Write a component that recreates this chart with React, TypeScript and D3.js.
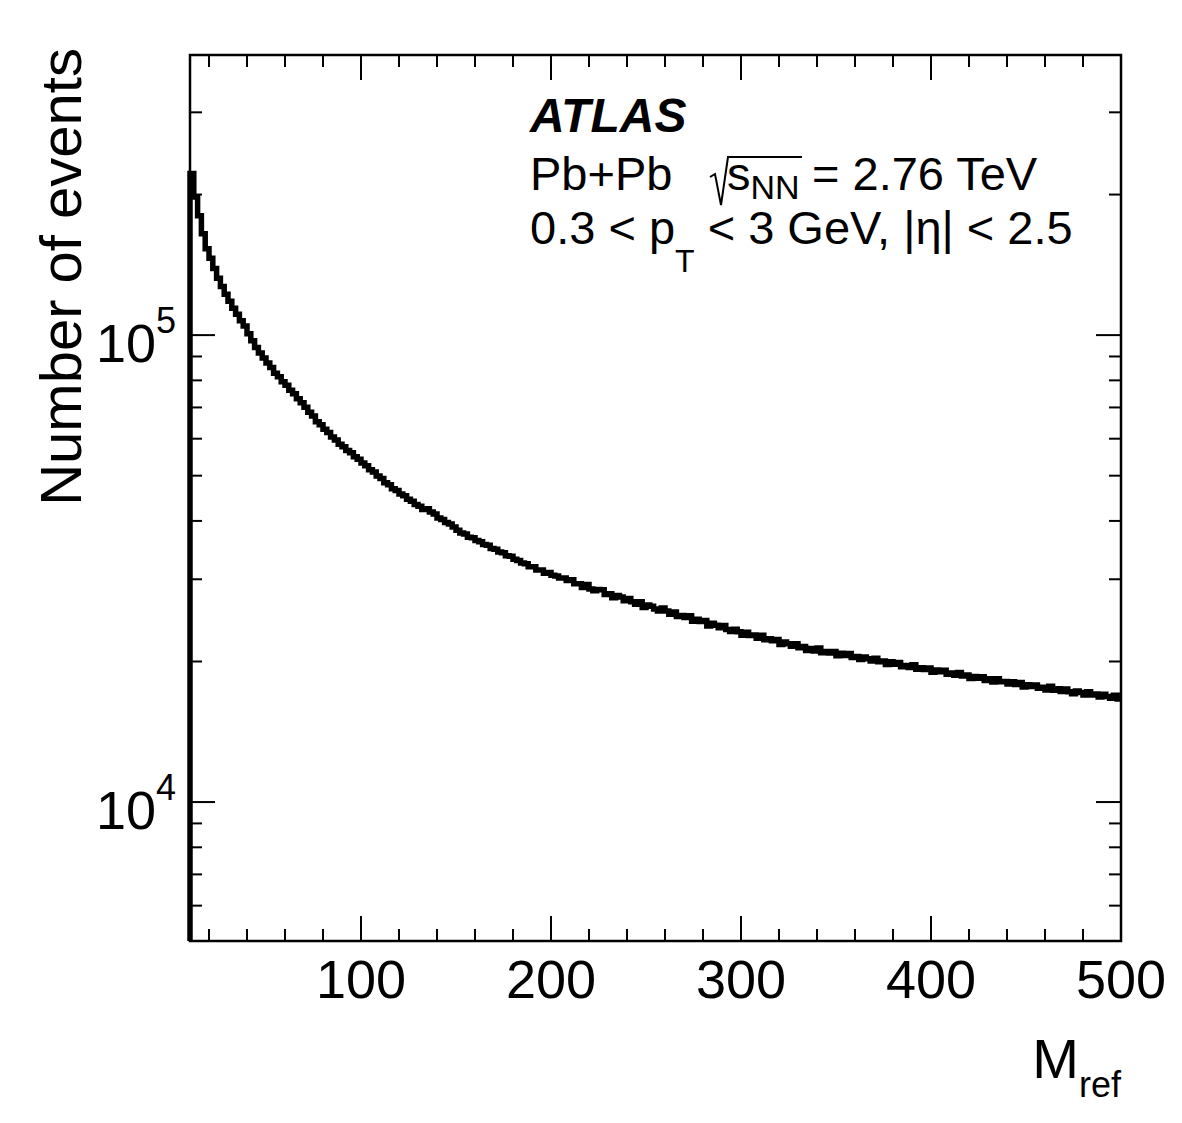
import React, { useEffect, useRef } from "react";
import * as d3 from "d3";

// bins of width 2 in M_ref, from 10 to 500
const binStart = 10;
const binWidth = 2;
const counts = [
  222000, 197500, 180200, 164800, 153100, 146000, 138900, 132400, 127100, 122300,
  118200, 114100, 110900, 107300, 104600, 100700, 97200, 94100, 91600, 89300,
  87100, 85200, 82900, 81400, 79500, 78100, 76200, 74900, 73100, 71600,
  70100, 68400, 67100, 65200, 64300, 62900, 61900, 60500, 59600, 58400,
  57700, 56600, 56000, 54900, 54200, 53200, 52500, 51500, 50900, 49900,
  49300, 48300, 47800, 46900, 46500, 45700, 45300, 44500, 44100, 43400,
  43000, 42300, 42500, 41800, 41400, 40600, 40300, 39700, 39400, 38800,
  38200, 37700, 37500, 36900, 36800, 36300, 36100, 35600, 35500, 34900,
  34800, 34300, 34200, 33700, 33600, 33100, 32900, 32500, 32400, 31900,
  31900, 31400, 31400, 30900, 31000, 30600, 30500, 30200, 30200, 29800,
  29940, 29350, 29360, 28810, 29250, 28610, 28340, 28540, 28480, 27830,
  27930, 27370, 27690, 27480, 26980, 27300, 26850, 26510, 26840, 26110,
  26410, 26260, 25900, 25640, 26030, 25650, 25250, 25530, 24970, 25080,
  24830, 25050, 24400, 24620, 24350, 24490, 23830, 24140, 23920, 23630,
  23880, 23410, 23190, 23460, 23150, 22770, 23110, 22730, 22790, 22420,
  22750, 22270, 22370, 22160, 22300, 21740, 22010, 21820, 21550, 21820,
  21410, 21530, 21110, 21310, 21070, 21370, 20880, 21020, 20860, 21020,
  20570, 20820, 20610, 20810, 20400, 20510, 20200, 20460, 20270, 20040,
  20320, 19970, 20060, 19700, 19970, 19740, 19900, 19490, 19620, 19420,
  19690, 19260, 19400, 19220, 19370, 18970, 19180, 19020, 19150, 18770,
  18900, 18690, 18950, 18610, 18710, 18380, 18570, 18420, 18550, 18220,
  18360, 18080, 18370, 18090, 18120, 17890, 18090, 17860, 18040, 17630,
  17830, 17690, 17800, 17530, 17610, 17380, 17710, 17360, 17480, 17240,
  17460, 17220, 17060, 17290, 17160, 16960, 17230, 16950, 17030, 16790,
  17020, 16830, 16690, 16930, 16620,
];

const xDomain = [10, 500];
const yDomain = [5040, 398000];
const xMajorTicks = [100, 200, 300, 400, 500];
const xMinorTicks = d3.range(20, 500, 20).filter((v) => v % 100 !== 0);
const yMajorTicks = [10000, 100000];
const yMajorExp = ["4", "5"];
const yMinorTicks = [6000, 7000, 8000, 9000, 20000, 30000, 40000, 50000, 60000, 70000, 80000, 90000, 200000, 300000];

const FONT = "'Liberation Sans', Arial, Helvetica, sans-serif";

export default function App() {
  const ref = useRef<SVGSVGElement>(null);

  useEffect(() => {
    const svg = d3.select(ref.current);
    svg.selectAll("*").remove();

    const left = 190, right = 1121, top = 55, bottom = 941;
    const x = d3.scaleLinear().domain(xDomain).range([left, right]);
    const y = d3.scaleLog().domain(yDomain).range([bottom, top]);

    // histogram outline, ROOT style (starts from the bottom of the frame)
    const pts: [number, number][] = [[x(binStart), bottom]];
    counts.forEach((c, i) => {
      const x0 = binStart + i * binWidth;
      pts.push([x(x0), y(c)]);
      pts.push([x(x0 + binWidth), y(c)]);
    });
    svg.append("path")
      .attr("d", d3.line()(pts))
      .attr("fill", "none")
      .attr("stroke", "#000")
      .attr("stroke-width", 5.5)
      .attr("stroke-linejoin", "miter");

    // frame
    svg.append("rect")
      .attr("x", left).attr("y", top)
      .attr("width", right - left).attr("height", bottom - top)
      .attr("fill", "none").attr("stroke", "#000").attr("stroke-width", 2.5);

    const ticks = svg.append("g").attr("stroke", "#000").attr("stroke-width", 2);
    const major = 25, minor = 12;

    // x ticks, bottom and top
    const xt = xMajorTicks.map((v) => ({ v, len: major })).concat(xMinorTicks.map((v) => ({ v, len: minor })));
    xt.forEach((t) => {
      ticks.append("line").attr("x1", x(t.v)).attr("x2", x(t.v)).attr("y1", bottom).attr("y2", bottom - t.len);
      ticks.append("line").attr("x1", x(t.v)).attr("x2", x(t.v)).attr("y1", top).attr("y2", top + t.len);
    });

    // y ticks, left and right
    const yt = yMajorTicks.map((v) => ({ v, len: major })).concat(yMinorTicks.map((v) => ({ v, len: minor })));
    yt.forEach((t) => {
      ticks.append("line").attr("y1", y(t.v)).attr("y2", y(t.v)).attr("x1", left).attr("x2", left + t.len);
      ticks.append("line").attr("y1", y(t.v)).attr("y2", y(t.v)).attr("x1", right).attr("x2", right - t.len);
    });

    // x tick labels
    svg.append("g").selectAll("text").data(xMajorTicks).enter().append("text")
      .attr("x", (d) => x(d)).attr("y", 998)
      .attr("text-anchor", "middle")
      .attr("font-family", FONT).attr("font-size", 54)
      .text((d) => d);

    // y tick labels 10^n
    yMajorTicks.forEach((v, i) => {
      const t = svg.append("text")
        .attr("x", 176).attr("y", y(v) + 27)
        .attr("text-anchor", "end")
        .attr("font-family", FONT).attr("font-size", 54);
      t.append("tspan").text("10");
      t.append("tspan").attr("font-size", 36).attr("dy", -29).text(yMajorExp[i]);
    });

    // axis titles
    const xt2 = svg.append("text")
      .attr("x", 1121).attr("y", 1078)
      .attr("text-anchor", "end")
      .attr("font-family", FONT).attr("font-size", 56);
    xt2.append("tspan").text("M");
    xt2.append("tspan").attr("font-size", 36).attr("dy", 19).text("ref");

    svg.append("text")
      .attr("transform", "translate(81,48) rotate(-90)")
      .attr("text-anchor", "end")
      .attr("font-family", FONT).attr("font-size", 58)
      .text("Number of events");

    // labels
    svg.append("text")
      .attr("x", 530).attr("y", 132)
      .attr("font-family", FONT).attr("font-size", 48)
      .attr("font-weight", "bold").attr("font-style", "italic")
      .text("ATLAS");

    const lab = svg.append("g").attr("font-family", FONT).attr("font-size", 47);
    lab.append("text").attr("x", 530).attr("y", 190).text("Pb+Pb");
    // sqrt sign
    svg.append("path")
      .attr("d", "M710,177 L715,174 L721,205 L728,157 L802,157")
      .attr("fill", "none").attr("stroke", "#000").attr("stroke-width", 2);
    const s = lab.append("text").attr("x", 727).attr("y", 190);
    s.append("tspan").text("s");
    s.append("tspan").attr("font-size", 34).attr("dy", 9).text("NN");
    lab.append("text").attr("x", 812).attr("y", 190).text("= 2.76 TeV");

    const l3 = lab.append("text").attr("x", 530).attr("y", 244);
    l3.append("tspan").text("0.3 < p");
    l3.append("tspan").attr("font-size", 32).attr("dy", 28).text("T");
    l3.append("tspan").attr("dy", -28).text(" < 3 GeV, |η| < 2.5");
  }, []);

  return (
    <svg ref={ref} width={1182} height={1123}
      style={{ position: "absolute", left: 0, top: 0, background: "#fff" }} />
  );
}
